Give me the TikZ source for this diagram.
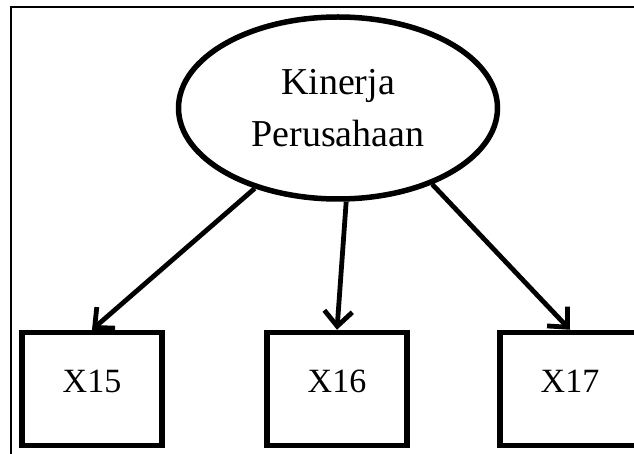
\documentclass[tikz,border=0pt]{standalone}
\usepackage{fontspec}
\setmainfont{Liberation Serif}
\usetikzlibrary{shapes.geometric,arrows.meta}
\begin{document}
\begin{tikzpicture}[x=1pt,y=-1pt,
  latent/.style={ellipse,draw,line width=5.5pt,minimum width=319pt,minimum height=182pt,
    inner sep=0pt,align=center,font=\fontsize{38}{52}\selectfont},
  indicator/.style={rectangle,draw,line width=5.5pt,minimum width=140pt,minimum height=113pt,
    text depth=16pt,font=\fontsize{34}{40}\selectfont},
  loading/.style={line width=4.8pt,-{Straight Barb[length=15pt,width=28pt]}},
  frameline/.style={line width=1.5pt}]
\clip (0,0) rectangle (634,454);
\fill[white] (0,0) rectangle (634,454);
% outer frame (only the top and left sides fall on the page)
\draw[frameline] (11,470) -- (11,7) -- (650,7);
% latent construct
\node[latent] (kp) at (338,108) {Kinerja\\Perusahaan};
% indicators
\node[indicator] (x15) at (92,389) {X15};
\node[indicator] (x16) at (337,389) {X16};
\node[indicator] (x17) at (570,389) {X17};
% loadings
\draw[loading] (kp.224) -- (x15.north);
\draw[loading] (kp.275) -- (x16.north);
\draw[loading] (kp.321) -- (x17.north);
\end{tikzpicture}
\end{document}
